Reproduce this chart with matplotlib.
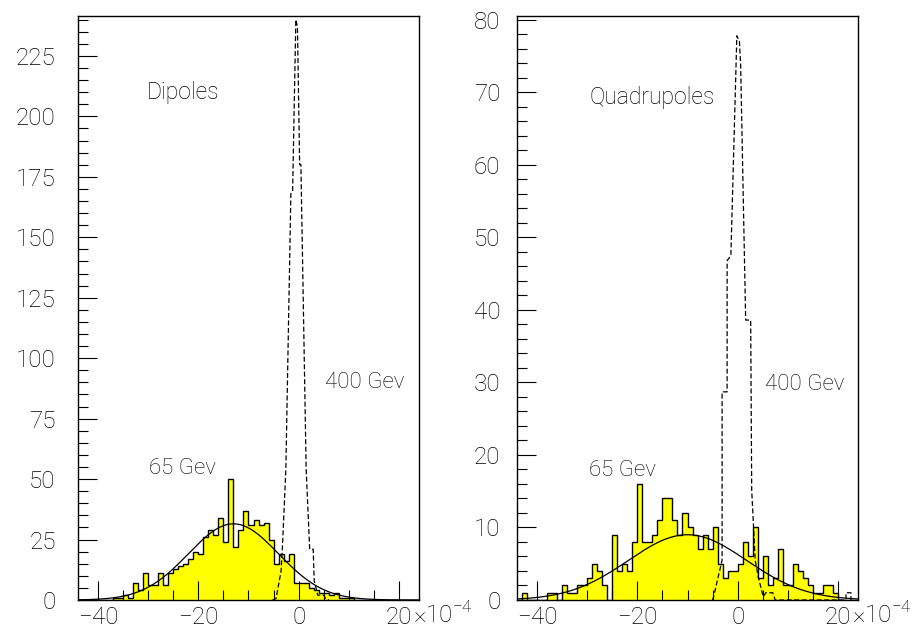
import numpy as np
import matplotlib
matplotlib.use("Agg")
import matplotlib.pyplot as plt
from matplotlib.ticker import MultipleLocator

plt.rcParams['font.family'] = ['Roboto', 'DejaVu Sans']
plt.rcParams['font.weight'] = 'light'
plt.rcParams['mathtext.fontset'] = 'custom'
plt.rcParams['mathtext.rm'] = 'Roboto:light'

# bin edges in units of 1e-4
edges = np.arange(-44, 25)

# Dipoles, 65 GeV (bins -44 .. 23)
dip65 = [0, 0, 0, 0, 0, 0, 0,
         1, 1, 2, 1, 7, 4, 11, 6, 6, 11, 6, 11, 13, 14, 15, 17, 20, 19,
         26, 29, 27, 34, 24, 50, 22, 29, 37, 31, 33, 31, 32, 25, 15, 19,
         16, 19, 7, 7, 7, 5, 4, 3, 3, 2, 3, 1, 1, 1,
         0, 0, 0, 0, 0, 0, 0, 0, 0, 0, 0, 0, 0]
# Quadrupoles, 65 GeV
quad65 = [0, 1, 0, 0, 0, 0, 1, 1, 0, 2, 1, 1, 2, 2, 3, 5, 4, 2, 0,
          9, 4, 5, 4, 8, 16, 8, 8, 9, 11, 14, 14, 11, 9, 12, 10, 9, 7,
          9, 7, 10, 5, 3, 4, 4, 5, 8, 6, 10, 3, 6, 2, 3, 7, 2, 2, 5, 4,
          3, 2, 1, 1, 2, 2, 1, 0, 0, 0, 0]

# 400 GeV outlines (dashed)
dip400_x = [-5.2, -4.5, -3.5, -3.2, -2.55, -1.55, -1.2, -0.56, -0.24, 0.2,
            0.45, 1.5, 2.2, 2.9, 3.1, 3.8, 5.0, 5.4, 6.0]
dip400_y = [0, 0.6, 12, 23.5, 54, 168, 169, 240, 237, 180,
            180, 54, 21, 21, 8, 2, 2, 0.5, 0]
quad400_x = [-5.0, -4.8, -3.1, -3.1, -2.1, -2.1, -1.35, -0.16, 0.36, 0.6,
             1.05, 1.6, 2.6, 2.8, 3.5, 4.1, 5.1, 5.6, 7.0, 7.5,
             21.6, 21.6, 22.6, 22.6]
quad400_y = [0, 0.45, 5.5, 28.7, 28.7, 46.8, 47.5, 77.8, 77.0, 73.7,
             57.9, 38.6, 38.6, 15.2, 5.5, 3.2, 0.45, 1, 1, 0,
             0, 1, 1, 0]

# gaussian fits: amplitude, mean, sigma
dip_fit = (31.5, -13.0, 9.0)
quad_fit = (9.0, -10.0, 11.8)

W, H = 920, 630
fig = plt.figure(figsize=(W / 100, H / 100), dpi=100)
ax1 = fig.add_axes([78 / W, 30 / H, 341 / W, 584.5 / H])
ax2 = fig.add_axes([517 / W, 30 / H, 341 / W, 584.5 / H])

xs = np.linspace(-44, 24, 500)


def draw(ax, counts, dx, dy, fit, ymax, ymaj, ymin_, ypad):
    ax.stairs(counts, edges, fill=True, color='#ffff00', lw=0)
    ax.stairs(counts, edges, color='black', lw=1.0)
    ax.plot(dx, dy, color='black', lw=0.9, dashes=(4, 2))
    a, m, s = fit
    ax.plot(xs, a * np.exp(-(xs - m) ** 2 / (2 * s ** 2)), color='black', lw=0.9)
    ax.set_xlim(-44, 24)
    ax.set_ylim(0, ymax)
    ax.xaxis.set_major_locator(MultipleLocator(20))
    ax.xaxis.set_minor_locator(MultipleLocator(5))
    ax.yaxis.set_major_locator(MultipleLocator(ymaj))
    ax.yaxis.set_minor_locator(MultipleLocator(ymin_))
    ax.tick_params(which='both', direction='in', top=False, right=False,
                   width=0.8, labelsize=17.5, labelcolor='black')
    ax.tick_params(which='major', length=14)
    ax.tick_params(which='minor', length=7)
    ax.tick_params(axis='x', pad=4)
    ax.tick_params(axis='y', pad=ypad)
    for sp in ax.spines.values():
        sp.set_linewidth(1.0)


draw(ax1, dip65, dip400_x, dip400_y, dip_fit, 241.7, 25, 5, 16)
draw(ax2, quad65, quad400_x, quad400_y, quad_fit, 80.6, 10, 2, 12)

ax1.text(-30.2, 210, 'Dipoles', fontsize=16.5, va='center')
ax1.text(-29.8, 54.5, '65 Gev', fontsize=16, va='center')
ax1.text(5.3, 90, '400 Gev', fontsize=16, va='center')
ax2.text(-29.6, 69.3, 'Quadrupoles', fontsize=16.5, va='center')
ax2.text(-29.6, 17.9, '65 Gev', fontsize=16, va='center')
ax2.text(5.4, 29.75, '400 Gev', fontsize=16, va='center')

fig.text(413 / W, 1 - 614 / H, r'$\times10^{-4}$', fontsize=17.5, va='center')
fig.text(852 / W, 1 - 614 / H, r'$\times10^{-4}$', fontsize=17.5, va='center')

fig.savefig('out.png', dpi=100)
